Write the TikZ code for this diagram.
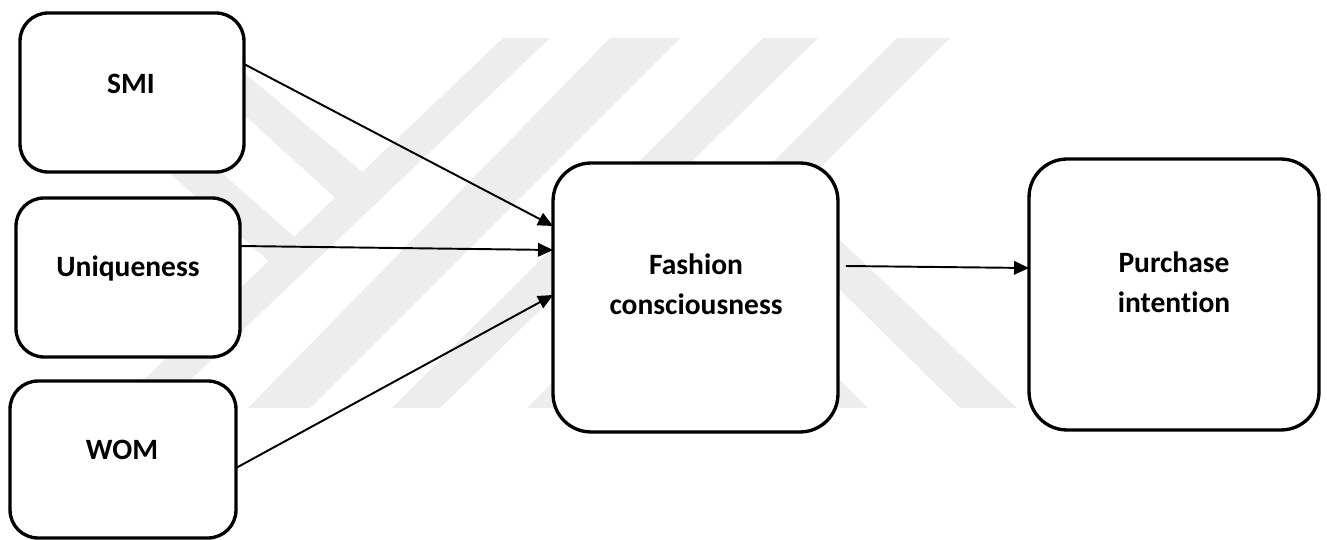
\documentclass[tikz,border=0pt]{standalone}
\usepackage{fontspec}
\setmainfont{Carlito}[Ligatures=NoCommon]
\usetikzlibrary{arrows.meta}
\definecolor{wm}{HTML}{EDEDED}
\begin{document}
\begin{tikzpicture}[x=0.02cm,y=-0.02cm,
  box/.style={draw, line width=1.9pt, fill=white, rounded corners=0.56cm, inner sep=0pt, outer sep=0pt},
  bigbox/.style={box, rounded corners=0.76cm},
  lbl/.style={font=\bfseries\fontsize{16.8}{20}\selectfont, inner sep=0pt, anchor=base},
  arr/.style={line width=1.1pt, -{Triangle[length=0.3cm,width=0.27cm]}},
  wmark/.style={fill=wm, draw=none}]
\useasboundingbox (0,0) rectangle (1327,540);
% faint background watermark
\fill[wmark] (503,38) -- (550,38) -- (161,408) -- (114,408) -- cycle;
\fill[wmark] (610,38) -- (680,38) -- (310,408) -- (248,408) -- cycle;
\fill[wmark] (763,38) -- (818,38) -- (440,408) -- (392,408) -- cycle;
\fill[wmark] (897,38) -- (950,38) -- (580,408) -- (527,408) -- cycle;
\fill[wmark] (203,38) -- (380,187) -- (355,216) -- (160,38) -- cycle;
\fill[wmark] (93,60) -- (305,246) -- (282,273) -- (42,60) -- cycle;
\fill[wmark] (766,170) -- (1017,408) -- (960,408) -- (718,170) -- cycle;
\fill[wmark] (838,378) -- (838,408) -- (868,408) -- cycle;
% boxes
\node[box, minimum width=4.48cm, minimum height=3.18cm] (smi) at (132,92.5) {};
\node[box, minimum width=4.48cm, minimum height=3.18cm] (uq) at (128,277.5) {};
\node[box, minimum width=4.52cm, minimum height=3.14cm] (wom) at (123,459.5) {};
\node[bigbox, minimum width=5.70cm, minimum height=5.38cm] (fc) at (695.5,297.5) {};
\node[bigbox, minimum width=5.80cm, minimum height=5.42cm] (pi) at (1174,294.5) {};
% labels
\node[lbl] (smit) at (131,93.5) {SMI};
\node[lbl] (uqt) at (128,276) {Uniqueness};
\node[lbl] (womt) at (122,459) {WOM};
\node[lbl] (fct1) at (696,275) {Fashion};
\node[lbl] (fct2) at (696,315) {consciousness};
\node[lbl] (pit1) at (1174,273) {Purchase};
\node[lbl] (pit2) at (1174,312) {intention};
% connectors
\draw[arr] ([yshift=0.57cm]smi.east) -- ([yshift=1.43cm]fc.west);
\draw[arr] ([yshift=0.63cm]uq.east) -- ([yshift=0.95cm]fc.west);
\draw[arr] ([yshift=-0.17cm]wom.east) -- ([yshift=0.05cm]fc.west);
\draw[arr] ([xshift=0.16cm,yshift=0.63cm]fc.east) -- ([yshift=0.53cm]pi.west);
\end{tikzpicture}
\end{document}
